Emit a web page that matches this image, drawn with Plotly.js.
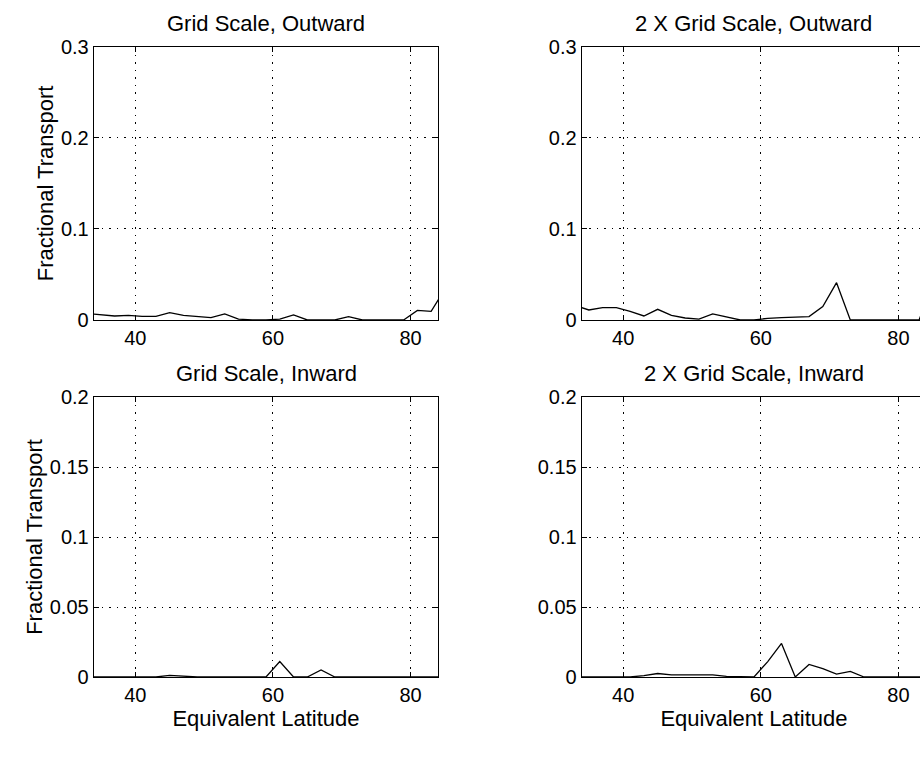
<!DOCTYPE html>
<html>
<head>
<meta charset="utf-8">
<script src="https://cdn.plot.ly/plotly-3.0.1.min.js"></script>
<style>
html, body { margin: 0; padding: 0; overflow: hidden; background: #fff; }
#chart { width: 926px; height: 765px; }
</style>
</head>
<body>
<div id="chart"></div>
<script>
// Equivalent latitude (degrees)
const latitude = [33, 35, 37, 39, 41, 43, 45, 47, 49, 51, 53, 55, 57, 59, 61, 63, 65, 67, 69, 71, 73, 75, 77, 79, 81, 83, 85];

// Fractional transport series
const gridScaleOutward = [0.007, 0.006, 0.0044, 0.005, 0.004, 0.004, 0.008, 0.005, 0.004, 0.0025, 0.0067, 0.001, 0, 0, 0.001, 0.0055, 0, 0, 0, 0.0037, 0, 0, 0, 0, 0.0105, 0.0095, 0.034];
const grid2xOutward    = [0.016, 0.011, 0.0135, 0.0135, 0.0095, 0.0044, 0.0117, 0.005, 0.0022, 0.001, 0.0066, 0.0037, 0, 0, 0.0018, 0.0026, 0.003, 0.0037, 0.0148, 0.041, 0, 0, 0, 0, 0, 0, 0.04];
const gridScaleInward  = [0, 0, 0, 0, 0, 0, 0.0012, 0.0004, 0, 0, 0, 0, 0, 0, 0.011, 0, 0, 0.005, 0, 0, 0, 0, 0, 0, 0, 0, 0];
const grid2xInward     = [0, 0, 0, 0, 0, 0.001, 0.0025, 0.0015, 0.0015, 0.0015, 0.0015, 0.0005, 0, 0, 0.011, 0.024, 0, 0.009, 0.006, 0.002, 0.004, 0, 0, 0, 0, 0, 0];

const panelTitles = ["Grid Scale, Outward", "2 X Grid Scale, Outward", "Grid Scale, Inward", "2 X Grid Scale, Inward"];
const xTicks = [40, 60, 80];
const yTicksOut = [0, 0.1, 0.2, 0.3];
const yTicksIn = [0, 0.05, 0.1, 0.15, 0.2];
const yLabel = "Fractional Transport";
const xLabel = "Equivalent Latitude";

const FONT = "Liberation Sans, Arial, Helvetica, sans-serif";
const line = { color: "black", width: 1.3 };
const GRIDDASH = "1.5px,6px";

const traces = [
  { x: latitude, y: gridScaleOutward, xaxis: "x",  yaxis: "y",  mode: "lines", line: line },
  { x: latitude, y: grid2xOutward,    xaxis: "x2", yaxis: "y2", mode: "lines", line: line },
  { x: latitude, y: gridScaleInward,  xaxis: "x3", yaxis: "y3", mode: "lines", line: line },
  { x: latitude, y: grid2xInward,     xaxis: "x4", yaxis: "y4", mode: "lines", line: line }
];

function xax(domain, anchor, title) {
  const a = {
    domain: domain, anchor: anchor, range: [34, 84],
    tickvals: xTicks, ticks: "inside", ticklen: 5, tickcolor: "black",
    showline: true, linecolor: "black", linewidth: 1.3, mirror: "ticks",
    showgrid: true, gridcolor: "black", griddash: GRIDDASH, gridwidth: 1,
    zeroline: false, tickfont: { size: 20, color: "black" }
  };
  if (title) a.title = { text: title, font: { size: 22, color: "black" }, standoff: 1 };
  return a;
}
function yax(domain, anchor, range, ticks, title) {
  const a = {
    domain: domain, anchor: anchor, range: range,
    tickvals: ticks, ticks: "inside", ticklen: 5, tickcolor: "black",
    showline: true, linecolor: "black", linewidth: 1.3, mirror: "ticks",
    showgrid: true, gridcolor: "black", griddash: GRIDDASH, gridwidth: 1,
    zeroline: false, tickfont: { size: 20, color: "black" }
  };
  if (title) a.title = { text: title, font: { size: 22, color: "black" }, standoff: 1 };
  return a;
}

const leftDom = [0, 0.4135];
const rightDom = [0.5865, 1];
const topDom = [0.5667, 1];
const botDom = [0, 0.4444];

function ttl(i, ax) {
  return { text: panelTitles[i], xref: "x" + ax + " domain", yref: "y" + ax + " domain", x: 0.5, y: 1, yshift: 9,
           xanchor: "center", yanchor: "bottom", showarrow: false, font: { size: 22, color: "black" } };
}

const layout = {
  width: 926, height: 765,
  margin: { l: 94, r: 0, t: 47, b: 88 },
  paper_bgcolor: "white", plot_bgcolor: "white",
  font: { family: FONT, size: 20, color: "black" },
  showlegend: false,
  xaxis:  xax(leftDom, "y"),
  yaxis:  yax(topDom, "x", [0, 0.3], yTicksOut, yLabel),
  xaxis2: xax(rightDom, "y2"),
  yaxis2: yax(topDom, "x2", [0, 0.3], yTicksOut),
  xaxis3: xax(leftDom, "y3", xLabel),
  yaxis3: yax(botDom, "x3", [0, 0.2], yTicksIn, yLabel),
  xaxis4: xax(rightDom, "y4", xLabel),
  yaxis4: yax(botDom, "x4", [0, 0.2], yTicksIn),
  annotations: [ttl(0, ""), ttl(1, "2"), ttl(2, "3"), ttl(3, "4")]
};

Plotly.newPlot("chart", traces, layout, { displayModeBar: false, staticPlot: true });
</script>
</body>
</html>
